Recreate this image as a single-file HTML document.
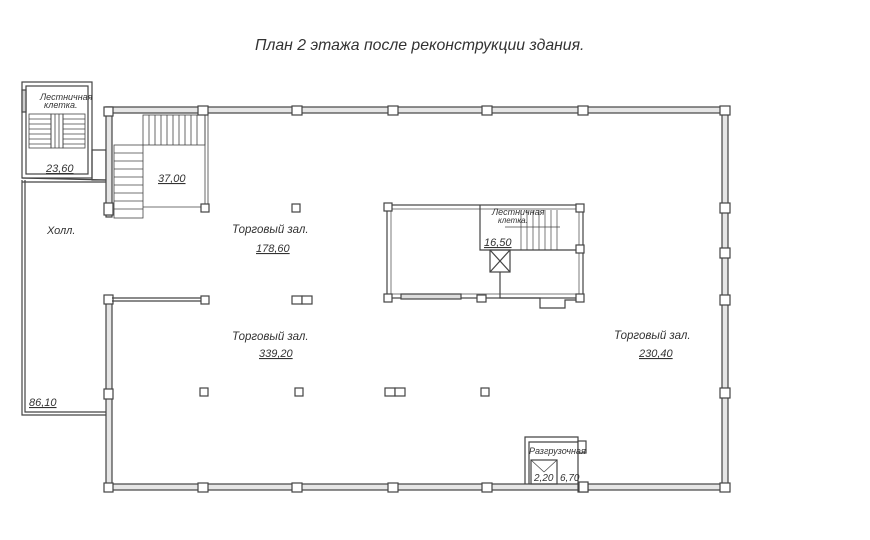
<!DOCTYPE html>
<html><head><meta charset="utf-8"><style>
html,body{margin:0;padding:0;background:#fff;}
svg{display:block;}
text{font-family:"Liberation Sans",sans-serif;font-style:italic;fill:#333;}
</style></head><body>
<svg width="870" height="540" viewBox="0 0 870 540" xmlns="http://www.w3.org/2000/svg">
<rect width="870" height="540" fill="#fff"/>
<text x="255" y="50" font-size="15.8" fill="#222">План 2 этажа после реконструкции здания.</text>
<g fill="none" stroke="#444" stroke-width="1.2">
<rect x="22" y="82" width="70" height="96"/>
<rect x="26" y="86" width="62" height="88"/>
<rect x="22" y="90" width="4" height="22" fill="#ccc"/>
<g stroke-width="0.8">
<rect x="29" y="114" width="22" height="34"/><rect x="63" y="114" width="22" height="34"/>
<rect x="51" y="114" width="12" height="34"/>
<line x1="29" y1="119" x2="51" y2="119"/><line x1="29" y1="124" x2="51" y2="124"/><line x1="29" y1="129" x2="51" y2="129"/><line x1="29" y1="134" x2="51" y2="134"/><line x1="29" y1="139" x2="51" y2="139"/><line x1="29" y1="144" x2="51" y2="144"/>
<line x1="63" y1="119" x2="85" y2="119"/><line x1="63" y1="124" x2="85" y2="124"/><line x1="63" y1="129" x2="85" y2="129"/><line x1="63" y1="134" x2="85" y2="134"/><line x1="63" y1="139" x2="85" y2="139"/><line x1="63" y1="144" x2="85" y2="144"/>
<line x1="55" y1="114" x2="55" y2="148"/><line x1="59" y1="114" x2="59" y2="148"/>
</g>
<rect x="92" y="150" width="14" height="30"/>
<polyline points="22,180 22,415 106,415"/>
<polyline points="25,180 25,412 106,412"/>
<line x1="22" y1="178" x2="106" y2="180"/>
<line x1="22" y1="182" x2="106" y2="182"/>
<rect x="106" y="107" width="622" height="6" fill="#e6e6e6"/>
<rect x="722" y="107" width="6" height="383" fill="#e6e6e6"/>
<rect x="106" y="484" width="622" height="6" fill="#e6e6e6"/>
<rect x="106" y="107" width="6" height="110" fill="#e6e6e6"/>
<rect x="106" y="297" width="6" height="193" fill="#e6e6e6"/>
<g fill="#fff">
<rect x="104" y="107" width="9" height="9"/><rect x="198" y="106" width="10" height="9"/><rect x="292" y="106" width="10" height="9"/><rect x="388" y="106" width="10" height="9"/><rect x="482" y="106" width="10" height="9"/><rect x="578" y="106" width="10" height="9"/><rect x="720" y="106" width="10" height="9"/>
<rect x="104" y="203" width="9" height="12"/><rect x="104" y="295" width="9" height="9"/><rect x="104" y="389" width="9" height="10"/><rect x="104" y="483" width="9" height="9"/>
<rect x="198" y="483" width="10" height="9"/><rect x="292" y="483" width="10" height="9"/><rect x="388" y="483" width="10" height="9"/><rect x="482" y="483" width="10" height="9"/><rect x="578" y="483" width="10" height="9"/><rect x="720" y="483" width="10" height="9"/>
<rect x="720" y="203" width="10" height="10"/><rect x="720" y="248" width="10" height="10"/><rect x="720" y="295" width="10" height="10"/><rect x="720" y="388" width="10" height="10"/>
<rect x="201" y="204" width="8" height="8"/><rect x="292" y="204" width="8" height="8"/>
<rect x="201" y="296" width="8" height="8"/><rect x="292" y="296" width="10" height="8"/><rect x="302" y="296" width="10" height="8"/>
<rect x="200" y="388" width="8" height="8"/><rect x="295" y="388" width="8" height="8"/><rect x="385" y="388" width="10" height="8"/><rect x="395" y="388" width="10" height="8"/><rect x="481" y="388" width="8" height="8"/>
</g>
<line x1="112" y1="298" x2="201" y2="298"/><line x1="112" y1="301" x2="201" y2="301"/>
<g stroke-width="0.8">
<rect x="143" y="115" width="62" height="30"/>
<line x1="149" y1="115" x2="149" y2="145"/><line x1="155" y1="115" x2="155" y2="145"/><line x1="161" y1="115" x2="161" y2="145"/><line x1="167" y1="115" x2="167" y2="145"/><line x1="173" y1="115" x2="173" y2="145"/><line x1="179" y1="115" x2="179" y2="145"/><line x1="185" y1="115" x2="185" y2="145"/><line x1="191" y1="115" x2="191" y2="145"/><line x1="197" y1="115" x2="197" y2="145"/>
<rect x="114" y="145" width="29" height="73"/>
<line x1="114" y1="153" x2="143" y2="153"/><line x1="114" y1="161" x2="143" y2="161"/><line x1="114" y1="169" x2="143" y2="169"/><line x1="114" y1="177" x2="143" y2="177"/><line x1="114" y1="185" x2="143" y2="185"/><line x1="114" y1="193" x2="143" y2="193"/><line x1="114" y1="201" x2="143" y2="201"/><line x1="114" y1="209" x2="143" y2="209"/>
<line x1="143" y1="207" x2="201" y2="207"/>
<line x1="205" y1="115" x2="205" y2="204"/><line x1="208" y1="115" x2="208" y2="204"/>
</g>
<rect x="387" y="205" width="196" height="93"/>
<rect x="391" y="209" width="188" height="85" stroke-width="0.7"/>
<rect x="384" y="203" width="8" height="8" fill="#fff"/><rect x="384" y="294" width="8" height="8" fill="#fff"/><rect x="576" y="204" width="8" height="8" fill="#fff"/><rect x="576" y="245" width="8" height="8" fill="#fff"/><rect x="576" y="294" width="8" height="8" fill="#fff"/>
<rect x="477" y="295" width="9" height="7" fill="#fff"/>
<rect x="401" y="294" width="60" height="5" fill="#ddd"/>
<polyline points="480,205 480,250 576,250"/>
<rect x="490" y="250" width="20" height="22"/>
<line x1="490" y1="250" x2="510" y2="272"/><line x1="510" y1="250" x2="490" y2="272"/>
<polyline points="500,272 500,298 540,298 540,308 565,308 565,300 576,300"/>
<g stroke-width="0.7">
<line x1="505" y1="227" x2="560" y2="227"/>
<line x1="521" y1="210" x2="521" y2="250"/><line x1="527" y1="210" x2="527" y2="250"/><line x1="533" y1="210" x2="533" y2="250"/><line x1="539" y1="210" x2="539" y2="250"/><line x1="545" y1="210" x2="545" y2="250"/><line x1="551" y1="210" x2="551" y2="250"/><line x1="557" y1="210" x2="557" y2="250"/>
</g>
<polyline points="525,484 525,437 578,437 578,484"/>
<polyline points="529,484 529,442 578,442"/>
<rect x="578" y="441" width="8" height="12" fill="#fff"/>
<rect x="531" y="460" width="26" height="24"/>
<line x1="531" y1="460" x2="544" y2="472" stroke-width="0.7"/><line x1="557" y1="460" x2="544" y2="472" stroke-width="0.7"/>
<rect x="579" y="482" width="9" height="10" fill="#fff"/>
</g>
<g font-size="11">
<text x="40" y="100" font-size="9">Лестничная</text>
<text x="44" y="108" font-size="9">клетка.</text>
<text x="46" y="172" text-decoration="underline">23,60</text>
<text x="158" y="182" text-decoration="underline">37,00</text>
<text x="47" y="234">Холл.</text>
<text x="232" y="233" font-size="11.5">Торговый зал.</text>
<text x="256" y="252" text-decoration="underline">178,60</text>
<text x="232" y="340" font-size="11.5">Торговый зал.</text>
<text x="259" y="357" text-decoration="underline">339,20</text>
<text x="614" y="339" font-size="11.5">Торговый зал.</text>
<text x="639" y="357" text-decoration="underline">230,40</text>
<text x="29" y="406" text-decoration="underline">86,10</text>
<text x="492" y="215" font-size="9">Лестничная</text>
<text x="498" y="223" font-size="8">клетка.</text>
<text x="484" y="246" text-decoration="underline">16,50</text>
<text x="529" y="454" font-size="9">Разгрузочная</text>
<text x="534" y="481" font-size="10">2,20</text>
<text x="560" y="481" font-size="10">6,70</text>
</g>
</svg>
</body></html>
